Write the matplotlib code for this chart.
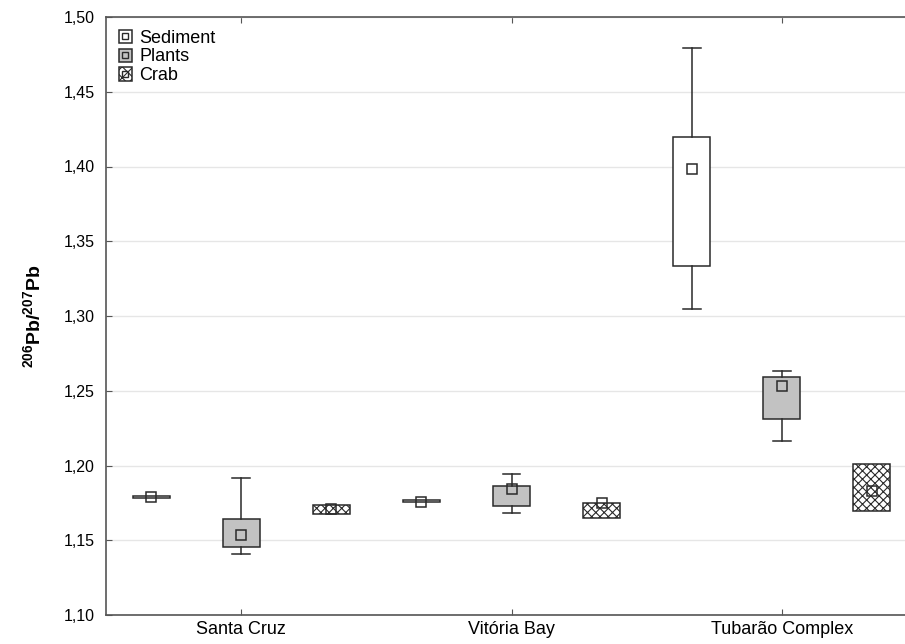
import matplotlib
matplotlib.use("Agg")
import matplotlib.pyplot as plt
from matplotlib.patches import Patch
from matplotlib.lines import Line2D
from matplotlib.legend_handler import HandlerTuple
from matplotlib.ticker import FuncFormatter, MultipleLocator

plt.rcParams["font.family"] = ["Liberation Sans", "DejaVu Sans"]
plt.rcParams["mathtext.fontset"] = "custom"
plt.rcParams["mathtext.rm"] = "Liberation Sans"
plt.rcParams["mathtext.bf"] = "Liberation Sans:bold"
plt.rcParams["hatch.linewidth"] = 0.8

sites = ["Santa Cruz", "Vitória Bay", "Tubarão Complex"]
groups = ["Sediment", "Plants", "Crab"]

# per group: one value per site
whislo = {
    "Sediment": [1.1785, 1.1755, 1.3047],
    "Plants": [1.1405, 1.1680, 1.2163],
    "Crab": [1.1675, 1.1646, 1.1695],
}
q1 = {
    "Sediment": [1.1785, 1.1755, 1.3336],
    "Plants": [1.1454, 1.1731, 1.2313],
    "Crab": [1.1675, 1.1646, 1.1695],
}
q3 = {
    "Sediment": [1.1795, 1.1770, 1.4199],
    "Plants": [1.1642, 1.1860, 1.2590],
    "Crab": [1.1735, 1.1747, 1.2010],
}
whishi = {
    "Sediment": [1.1795, 1.1770, 1.4790],
    "Plants": [1.1916, 1.1945, 1.2634],
    "Crab": [1.1735, 1.1747, 1.2010],
}
centre = {
    "Sediment": [1.1790, 1.1757, 1.3981],
    "Plants": [1.1534, 1.1842, 1.2534],
    "Crab": [1.1710, 1.1749, 1.1831],
}

styles = {
    "Sediment": dict(facecolor="white", hatch=None),
    "Plants": dict(facecolor="#c2c2c2", hatch=None),
    "Crab": dict(facecolor="white", hatch="xxxx"),
}
edge = "#2a2a2a"
offsets = [-1 / 3, 0, 1 / 3]

fig = plt.figure(figsize=(9.05, 6.44), dpi=100)
ax = fig.add_axes([106 / 905, 29 / 644, 811 / 905, 598 / 644])

for g, off in zip(groups, offsets):
    stats = []
    for i in range(len(sites)):
        stats.append(dict(med=centre[g][i], q1=q1[g][i], q3=q3[g][i],
                          whislo=whislo[g][i], whishi=whishi[g][i],
                          mean=centre[g][i], fliers=[]))
    pos = [i + off for i in range(len(sites))]
    res = ax.bxp(stats, positions=pos, widths=0.137, patch_artist=True,
                 showmeans=True, showfliers=False, manage_ticks=False,
                 boxprops=dict(edgecolor=edge, linewidth=1.1),
                 whiskerprops=dict(color=edge, linewidth=1.1),
                 capprops=dict(color=edge, linewidth=1.1),
                 capwidths=0.066,
                 medianprops=dict(visible=False),
                 meanprops=dict(marker="s", markersize=7, markerfacecolor="none",
                                markeredgecolor=edge, markeredgewidth=1.1))
    for b in res["boxes"]:
        b.set_facecolor(styles[g]["facecolor"])
        if styles[g]["hatch"]:
            b.set_hatch(styles[g]["hatch"])
    for w in res["whiskers"]:
        if w.get_ydata()[0] == w.get_ydata()[1]:
            w.set_visible(False)
    for k, c in enumerate(res["caps"]):
        i = k // 2
        if (k % 2 == 0 and whislo[g][i] == q1[g][i]) or (k % 2 == 1 and whishi[g][i] == q3[g][i]):
            c.set_visible(False)

ax.set_xlim(-0.5, 2.5)
ax.set_ylim(1.10, 1.50)
ax.yaxis.set_major_locator(MultipleLocator(0.05))
ax.yaxis.set_major_formatter(FuncFormatter(lambda v, p: f"{v:.2f}".replace(".", ",")))
ax.set_xticks(range(len(sites)))
ax.set_xticklabels(sites, fontsize=13)
ax.tick_params(axis="y", labelsize=11.5, direction="in", length=4, color="#555555", pad=8)
ax.tick_params(axis="x", direction="in", length=4, color="#555555", top=True, pad=4)
ax.grid(axis="y", color="#e6e6e6", linewidth=1)
ax.set_axisbelow(True)
for s in ax.spines.values():
    s.set_color("#555555")
    s.set_linewidth(1.2)

ax.set_ylabel(r"$\mathbf{^{206}Pb/^{207}Pb}$", fontsize=14, labelpad=14)

handles = []
for g in groups:
    p = Patch(facecolor=styles[g]["facecolor"], edgecolor=edge,
              hatch="xxx" if styles[g]["hatch"] else None, linewidth=1.1)
    m = Line2D([], [], linestyle="none", marker="s", markersize=5,
               markerfacecolor="none", markeredgecolor=edge, markeredgewidth=1)
    handles.append((p, m))
ax.legend(handles, groups, handler_map={tuple: HandlerTuple(ndivide=1)},
          loc="upper left", bbox_to_anchor=(0.0, 1.0), frameon=False,
          fontsize=13, handlelength=0.75, handleheight=0.75, handletextpad=0.4,
          labelspacing=0.1, borderaxespad=0.3)

fig.savefig("out.png", dpi=100)
